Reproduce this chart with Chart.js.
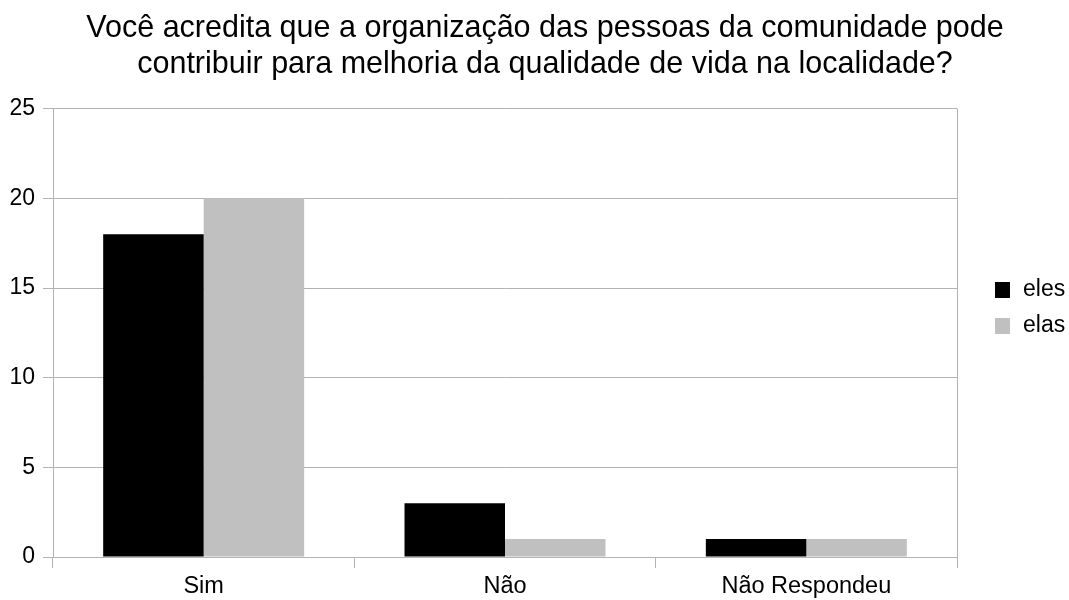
<!DOCTYPE html>
<html>
<head>
<meta charset="utf-8">
<script src="https://cdn.jsdelivr.net/npm/chart.js@4/dist/chart.umd.min.js"></script>
<style>
  html, body { margin: 0; padding: 0; background: #fff; }
  #wrap { width: 1069px; height: 600px; }
</style>
</head>
<body>
<div id="wrap"><canvas id="c" width="1069" height="600"></canvas></div>
<script>
const titleLines = ["Você acredita que a organização das pessoas da comunidade pode", "contribuir para melhoria da qualidade de vida na localidade?"];
const categories = ["Sim", "Não", "Não Respondeu"];
const seriesNames = ["eles", "elas"];
const elesValues = [18, 3, 1];
const elasValues = [20, 1, 1];
const yTicks = [0, 5, 10, 15, 20, 25];

const FONT = "'Liberation Sans', Arial, sans-serif";
const GRID = "#b3b3b3";

const frameTitleLegend = {
  id: 'frameTitleLegend',
  beforeDraw(chart) {
    const ctx = chart.ctx;
    ctx.save();
    ctx.fillStyle = '#fff';
    ctx.fillRect(0, 0, chart.width, chart.height);
    ctx.restore();
  },
  afterDraw(chart) {
    const ctx = chart.ctx;
    const a = chart.chartArea;
    ctx.save();
    // right frame edge of the plot area
    ctx.strokeStyle = GRID;
    ctx.lineWidth = 1;
    ctx.beginPath();
    ctx.moveTo(Math.round(a.right) + 0.5, a.top);
    ctx.lineTo(Math.round(a.right) + 0.5, a.bottom);
    ctx.stroke();
    // title
    ctx.fillStyle = '#000';
    ctx.font = "30.5px " + FONT;
    ctx.textAlign = 'center';
    ctx.textBaseline = 'alphabetic';
    titleLines.forEach((t, i) => ctx.fillText(t, 545, 37 + i * 36));
    // legend
    ctx.font = "23px " + FONT;
    ctx.textBaseline = 'middle';
    ctx.textAlign = 'left';
    chart.data.datasets.forEach((ds, i) => {
      const y = 290 + i * 36;
      ctx.fillStyle = ds.backgroundColor;
      ctx.fillRect(995, y - 8, 15, 16);
      ctx.fillStyle = '#000';
      ctx.fillText(ds.label, 1023, y);
    });
    ctx.restore();
  }
};

new Chart(document.getElementById('c'), {
  type: 'bar',
  data: {
    labels: categories,
    datasets: [
      { label: seriesNames[0], data: elesValues, backgroundColor: '#000000', borderWidth: 0 },
      { label: seriesNames[1], data: elasValues, backgroundColor: '#c0c0c0', borderWidth: 0 }
    ]
  },
  options: {
    responsive: false,
    animation: false,
    devicePixelRatio: 1,
    layout: { padding: { left: 0, right: 112, top: 108.7, bottom: 0 } },
    datasets: { bar: { categoryPercentage: 0.667, barPercentage: 1.0 } },
    plugins: {
      legend: { display: false },
      tooltip: { enabled: false },
      title: { display: false }
    },
    scales: {
      x: {
        offset: true,
        grid: { display: true, drawOnChartArea: false, drawTicks: true, tickLength: 11, color: GRID, offset: true },
        border: { display: true, color: GRID },
        ticks: { color: '#000', font: { family: FONT, size: 23.5 }, padding: 4, maxRotation: 0 },
        afterFit(s) { s.height = 43; }
      },
      y: {
        min: 0, max: 25,
        afterBuildTicks(s) { s.ticks = yTicks.map(v => ({ value: v })); },
        grid: { color: GRID, tickLength: 10, drawTicks: true },
        border: { display: true, color: GRID },
        ticks: { color: '#000', font: { family: FONT, size: 23 }, padding: 8 },
        afterFit(s) { s.width = 53; }
      }
    }
  },
  plugins: [frameTitleLegend]
});
</script>
</body>
</html>
